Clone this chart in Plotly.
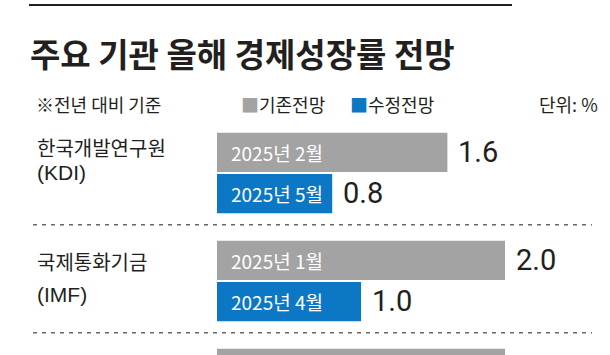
import plotly.graph_objects as go

W, H = 610, 355

# ---- data ----
orgs = ["한국개발연구원", "국제통화기금", "기타"]
org_abbr = ["(KDI)", "(IMF)", ""]
prev_vals = [1.6, 2.0, 2.0]
prev_dates = ["2025년 2월", "2025년 1월", ""]
rev_vals = [0.8, 1.0, None]
rev_dates = ["2025년 5월", "2025년 4월", ""]

title = "주요 기관 올해 경제성장률 전망"
note = "※전년 대비 기준"
unit = "단위: %"
legend_names = ["기존전망", "수정전망"]

GRAY = "#a3a3a3"
BLUE = "#0b77c5"
INK = "#231f20"
KFONT = "Noto Sans CJK KR"
LFONT = "Liberation Sans, Noto Sans CJK KR"
NUMFONT = "Liberation Sans Narrow, Roboto, Noto Sans CJK KR"

fig = go.Figure()
fig.add_trace(go.Bar(y=orgs, x=prev_vals, orientation="h", marker=dict(color=GRAY, line=dict(width=0)),
                     name=legend_names[0], hoverinfo="skip"))
fig.add_trace(go.Bar(y=orgs, x=rev_vals, orientation="h", marker=dict(color=BLUE, line=dict(width=0)),
                     name=legend_names[1], hoverinfo="skip"))

x0_px = 217.0
px_per_unit = 144.0
pitch = 108.0
c0 = 173.0

def py(p):
    return 1 - p / H

ann = []
half = 20.5
for i, org in enumerate(orgs):
    for val, date, ys in ((prev_vals[i], prev_dates[i], half), (rev_vals[i], rev_dates[i], -half)):
        if val is None:
            continue
        if date:
            ann.append(dict(x=0, y=org, xref="x", yref="y", text=date, showarrow=False,
                            xanchor="left", yanchor="middle", xshift=12, yshift=ys,
                            font=dict(family=KFONT, size=19, color="white")))
        ann.append(dict(x=val, y=org, xref="x", yref="y", text=f"{val:.1f}", showarrow=False,
                        xanchor="left", yanchor="middle", xshift=9, yshift=ys + 1,
                        font=dict(family=NUMFONT, size=29, color=INK)))

# org labels
org_lines = [(147, 172), (261, 294)]
for i, (l1, l2) in enumerate(org_lines):
    ann.append(dict(x=35 / W, y=py(l1), xref="paper", yref="paper", text=orgs[i], showarrow=False,
                    xanchor="left", yanchor="middle", font=dict(family=KFONT, size=20, color=INK)))
    ann.append(dict(x=35 / W, y=py(l2), xref="paper", yref="paper", text=org_abbr[i], showarrow=False,
                    xanchor="left", yanchor="middle", font=dict(family=LFONT, size=21, color=INK)))

# title / note / legend / unit
ann.append(dict(x=28 / W, y=py(53), xref="paper", yref="paper", text=f"<b>{title}</b>", showarrow=False,
                xanchor="left", yanchor="middle", font=dict(family=KFONT, size=33, color=INK)))
ann.append(dict(x=34 / W, y=py(104), xref="paper", yref="paper", text=note, showarrow=False,
                xanchor="left", yanchor="middle", font=dict(family=KFONT, size=18, color=INK)))
ann.append(dict(x=239 / W, y=py(104), xref="paper", yref="paper",
                text=f"<span style='color:{GRAY}'>■</span>{legend_names[0]}", showarrow=False,
                xanchor="left", yanchor="middle", font=dict(family=KFONT, size=18, color=INK)))
ann.append(dict(x=348 / W, y=py(104), xref="paper", yref="paper",
                text=f"<span style='color:{BLUE}'>■</span>{legend_names[1]}", showarrow=False,
                xanchor="left", yanchor="middle", font=dict(family=KFONT, size=18, color=INK)))
ann.append(dict(x=600 / W, y=py(104), xref="paper", yref="paper", text=unit, showarrow=False,
                xanchor="right", yanchor="middle", font=dict(family=KFONT, size=18, color=INK)))

shapes = [dict(type="line", xref="paper", yref="paper", x0=29 / W, x1=512 / W, y0=py(5), y1=py(5),
               line=dict(color=INK, width=2))]
for i in range(len(orgs) - 1):
    shapes.append(dict(type="line", xref="paper", yref="y", x0=33 / W, x1=592 / W, y0=i + 0.48, y1=i + 0.48,
                       line=dict(color="#666666", width=1.5, dash="4px,5px")))

fig.update_layout(
    width=W, height=H, margin=dict(l=0, r=0, t=0, b=0),
    paper_bgcolor="white", plot_bgcolor="white",
    barmode="group", bargap=0.237, bargroupgap=0.05,
    showlegend=False,
    xaxis=dict(domain=[x0_px / W, 1], range=[0, (W - x0_px) / px_per_unit], visible=False, fixedrange=True),
    yaxis=dict(domain=[0, 1], range=[(H - c0) / pitch, -c0 / pitch], visible=False, fixedrange=True),
    annotations=ann, shapes=shapes,
)

fig.write_html("out.html", config=dict(displayModeBar=False))
